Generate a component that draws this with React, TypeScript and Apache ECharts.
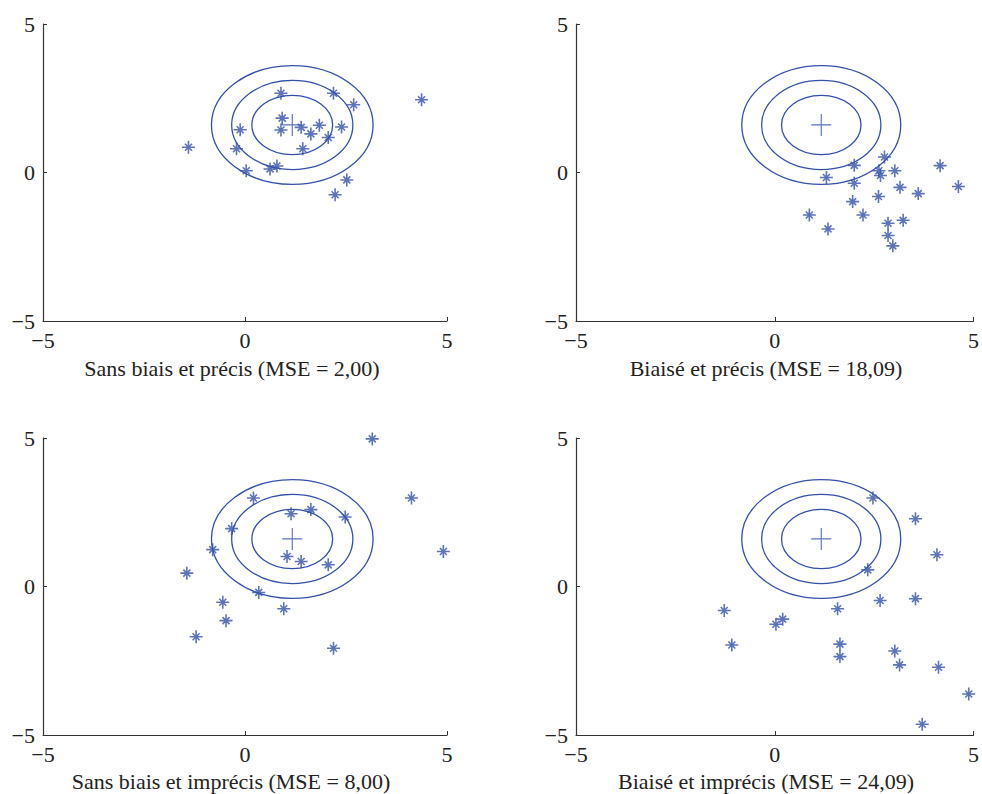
import React, { useEffect, useRef } from "react";
import * as echarts from "echarts";

// Panel titles
const panelTitles = [
  "Sans biais et précis (MSE = 2,00)",
  "Biaisé et précis (MSE = 18,09)",
  "Sans biais et imprécis (MSE = 8,00)",
  "Biaisé et imprécis (MSE = 24,09)",
];

// Axis ticks
const axisMin = -5;
const axisMax = 5;
const axisInterval = 5;

// Target centre and contour radii
const targetCenter = [1.17, 1.6];
const contourRadii = [1, 1.5, 2];

// Estimates (x, y) for each panel
const pointsUnbiasedPrecise = [
  [-1.4, 0.85], [-0.12, 1.44], [-0.21, 0.8], [0.03, 0.06], [0.62, 0.12],
  [0.79, 0.22], [0.89, 2.67], [0.92, 1.83], [0.89, 1.43], [1.39, 1.52],
  [1.63, 1.3], [1.84, 1.59], [2.06, 1.18], [1.43, 0.8], [2.19, 2.67],
  [2.69, 2.28], [2.39, 1.53], [2.52, -0.25], [2.23, -0.75], [4.37, 2.45],
];
const pointsBiasedPrecise = [
  [2.76, 0.52], [2.0, 0.24], [2.62, 0.06], [2.66, -0.1], [3.02, 0.06],
  [1.3, -0.17], [2.0, -0.36], [3.15, -0.5], [3.61, -0.71], [4.16, 0.23],
  [4.62, -0.47], [2.61, -0.81], [1.96, -0.98], [0.87, -1.43], [2.22, -1.43],
  [1.34, -1.9], [2.85, -1.71], [3.23, -1.61], [2.85, -2.12], [2.97, -2.47],
];
const pointsUnbiasedImprecise = [
  [3.15, 4.97], [4.12, 2.98], [4.91, 1.18], [0.21, 2.98], [1.14, 2.45],
  [1.63, 2.59], [2.48, 2.34], [-0.33, 1.95], [-0.8, 1.24], [-1.44, 0.45],
  [1.04, 1.01], [1.39, 0.84], [2.06, 0.73], [0.34, -0.2], [-0.55, -0.53],
  [-0.47, -1.15], [0.96, -0.75], [-1.21, -1.69], [2.19, -2.08],
];
const pointsBiasedImprecise = [
  [2.47, 2.98], [3.54, 2.28], [4.08, 1.07], [2.34, 0.56], [2.65, -0.47],
  [3.54, -0.41], [1.58, -0.75], [-1.27, -0.81], [0.2, -1.1], [0.03, -1.27],
  [-1.08, -1.97], [1.64, -1.94], [1.64, -2.36], [3.02, -2.17], [3.14, -2.64],
  [4.12, -2.72], [4.88, -3.62], [3.71, -4.64],
];

const panelPoints = [
  pointsUnbiasedPrecise,
  pointsBiasedPrecise,
  pointsUnbiasedImprecise,
  pointsBiasedImprecise,
];

const BLUE = "#3550ab";
const AXIS = "#333333";
const FONT = "Liberation Serif";

const grids = [
  { left: 43, top: 24, width: 404, height: 297 },
  { left: 576, top: 24, width: 403, height: 297 },
  { left: 43, top: 438, width: 404, height: 297 },
  { left: 576, top: 438, width: 403, height: 297 },
];
const titlePos = [
  [232, 368],
  [766, 368],
  [231, 781],
  [766, 781],
];

const fmt = (v: number) => (v < 0 ? "\u2212" + Math.abs(v) : String(v));

const STAR = "path://M0,6.5H13M6.5,0V13M3,3L10,10M10,3L3,10";
const PLUS = "path://M0,11H20M10,0V22";

export default function App() {
  const ref = useRef<HTMLDivElement>(null);
  useEffect(() => {
    if (!ref.current) return;
    const chart = echarts.init(ref.current, null, { renderer: "svg" });
    const axisCommon = (gridIndex: number) => ({
      type: "value",
      gridIndex,
      min: axisMin,
      max: axisMax,
      interval: axisInterval,
      splitLine: { show: false },
      axisLine: { show: true, onZero: false, lineStyle: { color: AXIS, width: 1.2 } },
      axisTick: { show: true, inside: true, length: 4, lineStyle: { color: AXIS } },
      axisLabel: {
        formatter: fmt,
        fontFamily: FONT,
        fontSize: 22,
        color: "#222",
        margin: 8,
      },
    });
    const series: any[] = [];
    panelPoints.forEach((pts, i) => {
      series.push({
        type: "custom",
        xAxisIndex: i,
        yAxisIndex: i,
        silent: true,
        clip: false,
        data: contourRadii.map((r) => [targetCenter[0], targetCenter[1], r]),
        renderItem: (params: any, api: any) => {
          const c = api.coord([api.value(0), api.value(1)]);
          const r = api.value(2);
          const sz = api.size([r, r]);
          return {
            type: "ellipse",
            shape: { cx: c[0], cy: c[1], rx: sz[0], ry: sz[1] },
            style: { fill: "none", stroke: BLUE, lineWidth: 1.3 },
          };
        },
        z: 1,
      });
      series.push({
        type: "scatter",
        xAxisIndex: i,
        yAxisIndex: i,
        data: [targetCenter],
        symbol: PLUS,
        symbolSize: [20, 22],
        symbolKeepAspect: false,
        itemStyle: { color: "transparent", borderColor: BLUE, borderWidth: 1.2 },
        z: 2,
      });
      series.push({
        type: "scatter",
        xAxisIndex: i,
        yAxisIndex: i,
        data: pts,
        symbol: STAR,
        symbolSize: 13,
        itemStyle: { color: "transparent", borderColor: BLUE, borderWidth: 1.6 },
        z: 3,
      });
    });
    chart.setOption({
      animation: false,
      backgroundColor: "#ffffff",
      grid: grids.map((g) => ({ ...g, containLabel: false })),
      xAxis: grids.map((_, i) => axisCommon(i)),
      yAxis: grids.map((_, i) => axisCommon(i)),
      graphic: panelTitles.map((t, i) => ({
        type: "text",
        x: titlePos[i][0],
        y: titlePos[i][1],
        style: {
          text: t,
          fontFamily: FONT,
          fontSize: 22,
          fill: "#222",
          align: "center",
          verticalAlign: "middle",
        },
      })),
      series,
    });
    return () => chart.dispose();
  }, []);
  return (
    <div
      ref={ref}
      style={{ position: "fixed", left: 0, top: 0, width: 982, height: 794 }}
    />
  );
}
